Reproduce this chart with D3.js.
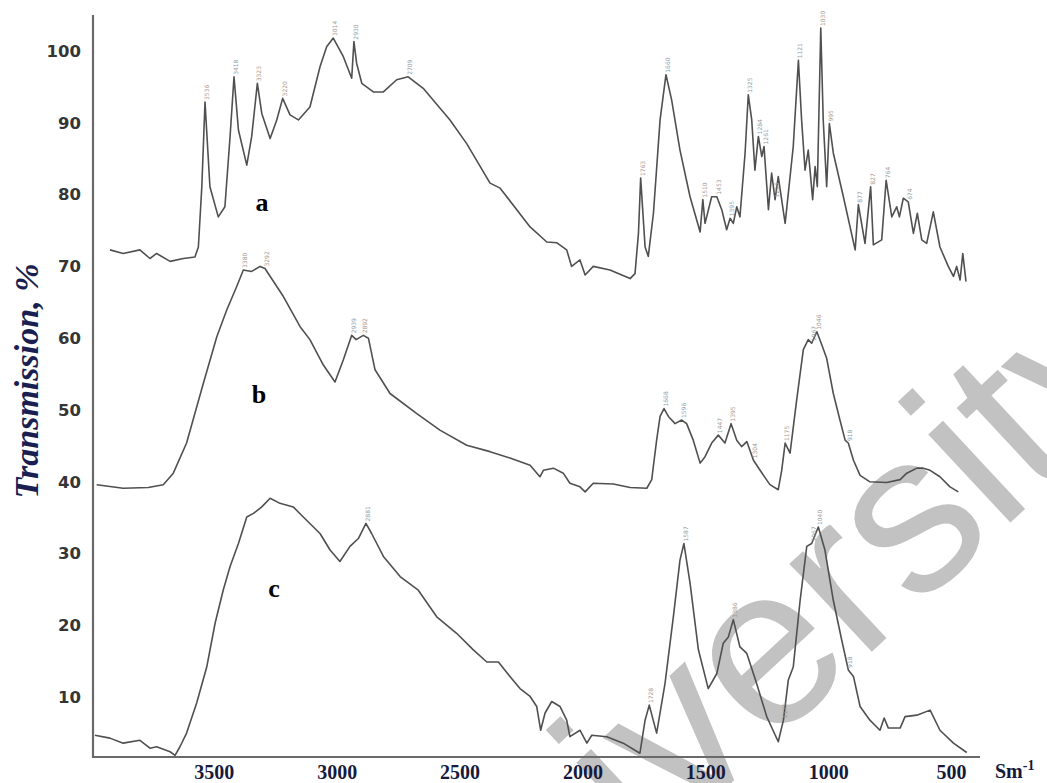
<!DOCTYPE html>
<html>
<head>
<meta charset="utf-8">
<script src="https://cdn.jsdelivr.net/npm/d3@7"></script>
<style>
  html, body { margin: 0; padding: 0; background: #fff; }
  svg { display: block; }
</style>
</head>
<body>
<script>
// Axis tick values
const wavenumberTicks = [3500, 3000, 2500, 2000, 1500, 1000, 500];
const transmissionTicks = [10, 20, 30, 40, 50, 60, 70, 80, 90, 100];

// Spectrum a: [wavenumber, transmission %]
const spectrumA = [
  [3923,72.3],[3869,71.8],[3801,72.3],[3760,71.1],[3733,71.8],[3678,70.7],[3624,71.1],[3577,71.3],
  [3563,72.7],[3549,81.1],[3536,92.9],[3516,81.1],[3482,76.9],[3455,78.3],[3434,88.1],[3418,96.4],
  [3400,89.0],[3366,84.1],[3346,88.1],[3323,95.5],[3305,91.3],[3271,87.8],[3244,90.4],[3220,93.4],
  [3190,91.1],[3156,90.4],[3109,92.2],[3068,97.8],[3041,100.6],[3014,101.8],[2973,99.2],[2939,96.2],
  [2930,101.3],[2919,98.3],[2898,95.5],[2851,94.3],[2810,94.3],[2756,96.0],[2709,96.4],[2648,94.8],
  [2539,90.4],[2471,87.1],[2376,81.6],[2335,80.9],[2213,75.5],[2145,73.4],[2105,73.3],[2064,72.3],
  [2044,70.0],[2010,70.9],[1989,68.8],[1956,70.0],[1888,69.5],[1806,68.3],[1786,69.0],[1772,74.6],
  [1763,82.3],[1745,72.7],[1732,71.4],[1711,77.4],[1684,90.4],[1660,96.7],[1637,93.2],[1603,86.2],
  [1562,79.7],[1521,74.8],[1510,79.3],[1501,76.0],[1474,79.7],[1453,79.7],[1433,77.9],[1413,75.1],
  [1399,76.7],[1386,76.0],[1372,78.3],[1359,76.9],[1338,85.8],[1325,93.9],[1311,90.4],[1298,83.4],
  [1284,88.1],[1270,85.3],[1261,86.7],[1243,77.9],[1230,83.0],[1216,79.3],[1203,82.5],[1175,76.0],
  [1142,86.7],[1121,98.7],[1108,90.4],[1094,83.4],[1081,86.2],[1063,79.3],[1053,83.9],[1044,81.1],
  [1030,103.2],[1020,90.4],[1006,81.1],[995,89.9],[979,85.8],[938,79.7],[890,72.3],[877,78.6],
  [850,73.2],[827,81.1],[816,73.0],[782,73.7],[764,82.0],[741,76.9],[721,78.3],[710,76.9],
  [694,79.5],[674,79.0],[653,74.6],[637,77.4],[619,73.7],[599,73.2],[572,77.6],[545,72.7],
  [511,70.0],[490,68.6],[477,70.0],[463,68.1],[452,71.8],[439,67.9]
];

// Spectrum b
const spectrumB = [
  [3977,39.6],[3869,39.1],[3767,39.2],[3706,39.6],[3665,41.2],[3611,45.4],[3543,53.7],[3488,60.2],
  [3448,63.9],[3407,67.2],[3380,69.5],[3346,69.3],[3312,70.0],[3292,69.7],[3217,65.8],[3149,61.6],
  [3109,59.8],[3055,56.3],[3007,53.9],[2973,57.0],[2939,60.4],[2921,59.8],[2892,60.4],[2871,60.0],
  [2844,55.6],[2783,52.3],[2674,49.5],[2580,47.2],[2471,45.1],[2376,44.2],[2295,43.3],[2213,42.3],
  [2173,40.7],[2159,41.6],[2118,41.9],[2078,41.2],[2051,39.8],[2010,39.3],[1989,38.6],[1956,39.8],
  [1874,39.7],[1806,39.2],[1738,39.1],[1718,40.3],[1698,45.8],[1684,49.1],[1668,50.2],[1650,49.1],
  [1623,48.1],[1596,48.6],[1576,48.1],[1549,45.8],[1521,42.6],[1501,43.5],[1474,45.4],[1447,46.5],
  [1420,45.4],[1395,48.1],[1372,45.8],[1352,44.9],[1331,45.6],[1304,43.0],[1277,41.6],[1237,39.6],
  [1203,38.9],[1189,41.6],[1175,45.4],[1155,44.0],[1128,51.4],[1101,58.4],[1081,59.8],[1067,59.3],
  [1046,60.9],[1026,59.1],[1006,57.2],[979,52.3],[952,48.6],[931,45.8],[918,45.4],[897,43.0],
  [870,40.9],[830,40.0],[762,39.9],[707,40.3],[680,41.2],[639,41.9],[613,41.9],[585,41.6],
  [545,40.7],[504,39.3],[470,38.6]
];

// Spectrum c
const spectrumC = [
  [3984,4.7],[3923,4.3],[3869,3.6],[3801,4.0],[3760,2.9],[3733,3.1],[3678,2.4],[3658,1.9],
  [3638,3.1],[3611,5.0],[3570,9.2],[3529,14.2],[3495,20.3],[3462,24.9],[3434,28.2],[3400,31.4],
  [3366,35.1],[3339,35.6],[3305,36.5],[3271,37.7],[3231,37.0],[3177,36.5],[3136,35.1],[3068,32.8],
  [3027,30.5],[2987,28.9],[2946,31.0],[2912,32.1],[2881,34.2],[2858,32.8],[2810,29.6],[2742,26.8],
  [2668,24.9],[2593,21.2],[2512,18.9],[2444,16.6],[2389,14.9],[2342,14.9],[2295,12.9],[2254,11.2],
  [2213,10.1],[2186,8.7],[2170,5.4],[2152,7.8],[2125,9.4],[2091,8.7],[2064,6.8],[2051,4.5],
  [2010,5.4],[1982,3.6],[1962,4.7],[1901,4.5],[1834,3.6],[1766,2.2],[1745,6.8],[1728,8.9],
  [1698,5.0],[1664,11.9],[1630,21.2],[1603,29.1],[1587,31.4],[1562,25.9],[1528,16.6],[1488,11.2],
  [1453,13.3],[1427,17.5],[1406,18.4],[1386,20.8],[1359,17.0],[1331,16.1],[1291,11.9],[1250,7.3],
  [1203,3.8],[1182,6.8],[1162,12.4],[1142,14.2],[1114,23.5],[1087,31.0],[1067,31.4],[1040,33.7],
  [1013,30.5],[979,23.5],[945,18.0],[918,13.8],[897,12.9],[870,8.7],[830,6.8],[789,5.4],
  [772,7.1],[755,5.7],[707,5.7],[687,7.3],[639,7.5],[585,8.2],[545,5.4],[490,3.6],[436,2.3]
];

// Band positions annotated on each spectrum
const peaksA = [3536, 3418, 3323, 3220, 3014, 2930, 2709, 1763, 1660, 1510, 1453, 1395, 1325, 1284, 1261, 1216, 1121, 1030, 995, 877, 827, 764, 674];
const peaksB = [3380, 3292, 2939, 2892, 1668, 1596, 1447, 1395, 1304, 1175, 1067, 1046, 918];
const peaksC = [2881, 1728, 1587, 1386, 1175, 1067, 1040, 918];

// Sample letters placed beside each spectrum
const curveLetters = [
  { name: "a", wn: 3304, t: 77.7 },
  { name: "b", wn: 3316, t: 51.0 },
  { name: "c", wn: 3255, t: 24.0 }
];

const W = 1047, H = 783;
const svg = d3.select("body").append("svg").attr("width", W).attr("height", H);

const x = d3.scaleLinear().domain([4000, 500]).range([91, 951]);
const y = d3.scaleLinear().domain([0, 100]).range([769, 51]);

// Watermark
svg.append("text")
  .attr("transform", "translate(434,1060) rotate(-43)")
  .attr("font-family", "'Liberation Sans', Arial, sans-serif")
  .attr("font-size", 228)
  .attr("fill", "#c2c2c2")
  .text("University");

// Axis lines
const axisColor = "#6a6a6a";
svg.append("line").attr("x1", 93).attr("x2", 93).attr("y1", 15).attr("y2", 758)
  .attr("stroke", axisColor).attr("stroke-width", 2.2);
svg.append("line").attr("x1", 92).attr("x2", 980).attr("y1", 757).attr("y2", 757)
  .attr("stroke", axisColor).attr("stroke-width", 2.2);

// Y tick labels
const yAxis = svg.append("g").attr("transform", "translate(93,0)")
  .call(d3.axisLeft(y).tickValues(transmissionTicks).tickSize(0).tickPadding(12).tickFormat(d3.format("d")));
yAxis.select(".domain").remove();
yAxis.selectAll("text")
  .attr("font-family", "'DejaVu Sans', sans-serif")
  .attr("font-weight", "bold")
  .attr("font-size", 16.5)
  .attr("fill", "#353535");

// X tick labels
const xAxis = svg.append("g").attr("transform", "translate(0,757)")
  .call(d3.axisBottom(x).tickValues(wavenumberTicks).tickSize(0).tickPadding(8).tickFormat(d3.format("d")));
xAxis.select(".domain").remove();
xAxis.selectAll("text")
  .attr("font-family", "'Liberation Serif', 'Times New Roman', serif")
  .attr("font-weight", "bold")
  .attr("font-size", 20)
  .attr("fill", "#161a3c");

// Unit label
const unit = svg.append("text")
  .attr("x", 995).attr("y", 778)
  .attr("font-family", "'Liberation Serif', 'Times New Roman', serif")
  .attr("font-weight", "bold")
  .attr("font-size", 20)
  .attr("fill", "#161a3c");
unit.append("tspan").text("Sm");
unit.append("tspan").attr("dy", -8).attr("font-size", 14).text("-1");

// Y axis title
svg.append("text")
  .attr("transform", "translate(38,381) rotate(-90)")
  .attr("text-anchor", "middle")
  .attr("font-family", "'Liberation Serif', 'Times New Roman', serif")
  .attr("font-weight", "bold")
  .attr("font-style", "italic")
  .attr("font-size", 34)
  .attr("fill", "#1a1f52")
  .text("Transmission, %");

// Spectra
const line = d3.line().x(d => x(d[0])).y(d => y(d[1]));
const spectra = [spectrumA, spectrumB, spectrumC];
svg.append("g").selectAll("path").data(spectra).join("path")
  .attr("d", line)
  .attr("fill", "none")
  .attr("stroke", "#505050")
  .attr("stroke-width", 1.6)
  .attr("stroke-linejoin", "round");

// Band annotations
function nearest(data, wn) {
  return data.reduce((a, b) => Math.abs(b[0] - wn) < Math.abs(a[0] - wn) ? b : a);
}
[[spectrumA, peaksA], [spectrumB, peaksB], [spectrumC, peaksC]].forEach(([data, peaks]) => {
  svg.append("g").selectAll("text").data(peaks).join("text")
    .attr("transform", wn => {
      const p = nearest(data, wn);
      return `translate(${x(p[0]) + 4},${y(p[1]) - 2}) rotate(-90)`;
    })
    .attr("font-family", "'DejaVu Sans', sans-serif")
    .attr("font-size", 6)
    .attr("fill", "#9a9a9a")
    .text(wn => wn);
});

// Curve letters
svg.append("g").selectAll("text").data(curveLetters).join("text")
  .attr("x", d => x(d.wn))
  .attr("y", d => y(d.t))
  .attr("text-anchor", "middle")
  .attr("font-family", "'Liberation Serif', 'Times New Roman', serif")
  .attr("font-weight", "bold")
  .attr("font-size", 26)
  .attr("fill", "#000")
  .text(d => d.name);
</script>
</body>
</html>
